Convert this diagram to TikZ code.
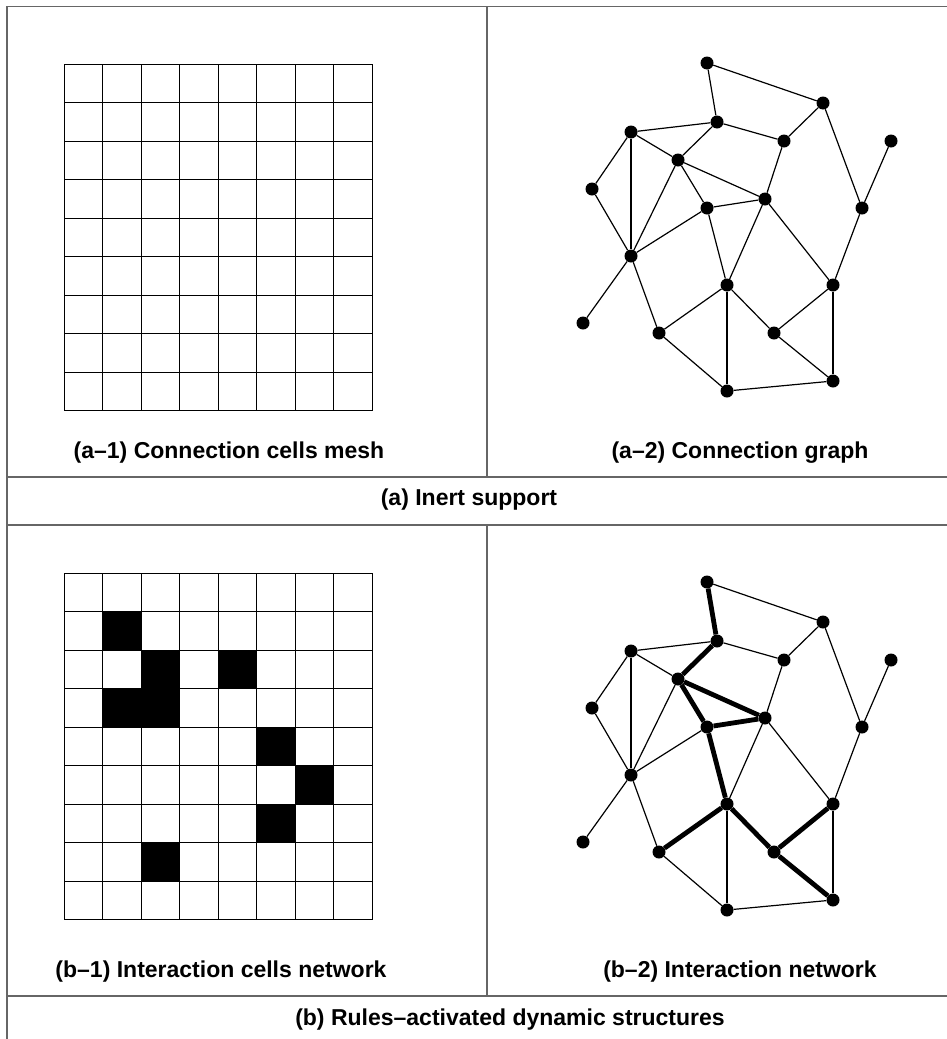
\documentclass[tikz,border=0pt]{standalone}
\usepackage{fontspec}
\setmainfont{Liberation Sans}

\begin{document}
\begin{tikzpicture}[
    x=1pt, y=-1pt,
    dot/.style={circle, fill=black, inner sep=0pt, minimum size=13pt},
    edge/.style={line width=1.2pt},
    hot/.style={line width=4.8pt},
    rule/.style={draw=black!60, line width=1.4pt},
    cellline/.style={line width=1pt},
    lbl/.style={anchor=base, font=\fontsize{23}{27}\selectfont\bfseries}
]
\useasboundingbox (0,0) rectangle (947,1039);

% table rules
\draw[rule] (7,1039) -- (7,6.7) -- (947,6.7);
\draw[rule] (7,477) -- (947,477);
\draw[rule] (7,525) -- (947,525);
\draw[rule] (7,996) -- (947,996);
\draw[rule] (487,6.7) -- (487,477);
\draw[rule] (487,525) -- (487,996);

% active cells
\foreach \c/\r in {1/1,2/2,4/2,1/3,2/3,5/4,6/5,5/6,2/7}
  \fill (64+\c*38.5,573+\r*38.5) rectangle ++(38.5,38.5);

% meshes
\foreach \gy in {64,573} {
  \foreach \i in {0,...,8}
    \draw[cellline] (64+\i*38.5,\gy) -- ++(0,346.5);
  \foreach \j in {0,...,9}
    \draw[cellline] (64,\gy+\j*38.5) -- ++(308,0);
}

% graphs
\foreach \g/\dy in {a/0,b/519} {
  \foreach \n/\px/\py in {1/707/63, 2/823/103, 3/717/122, 4/631/132, 5/784/141,
      6/891/141, 7/678/160, 8/592/189, 9/765/199, 10/707/208, 11/862/208,
      12/631/256, 13/727/285, 14/833/285, 15/583/323, 16/659/333, 17/774/333,
      18/833/381, 19/727/391}
    \node[dot] (\g\n) at (\px,\py+\dy) {};
  \foreach \u/\v in {1/2,1/3,3/4,3/5,3/7,2/5,2/11,4/8,4/12,4/7,7/10,7/9,7/12,
      5/9,6/11,8/12,10/9,10/12,10/13,9/13,9/14,11/14,12/15,12/16,16/13,13/19,
      13/17,17/14,17/18,14/18,16/19,19/18}
    \draw[edge] (\g\u) -- (\g\v);
}
\foreach \u/\v in {1/3,3/7,7/9,7/10,10/9,10/13,13/16,13/17,17/14,17/18}
  \draw[hot] (b\u) -- (b\v);

\node[lbl] (capA1) at (229,458) {(a–1) Connection cells mesh};
\node[lbl] (capA2) at (740,458) {(a–2) Connection graph};
\node[lbl] (capA) at (469,505) {(a) Inert support};
\node[lbl] (capB1) at (221,977) {(b–1) Interaction cells network};
\node[lbl] (capB2) at (740,977) {(b–2) Interaction network};
\node[lbl] (capB) at (510,1025) {(b) Rules–activated dynamic structures};
\end{tikzpicture}
\end{document}
